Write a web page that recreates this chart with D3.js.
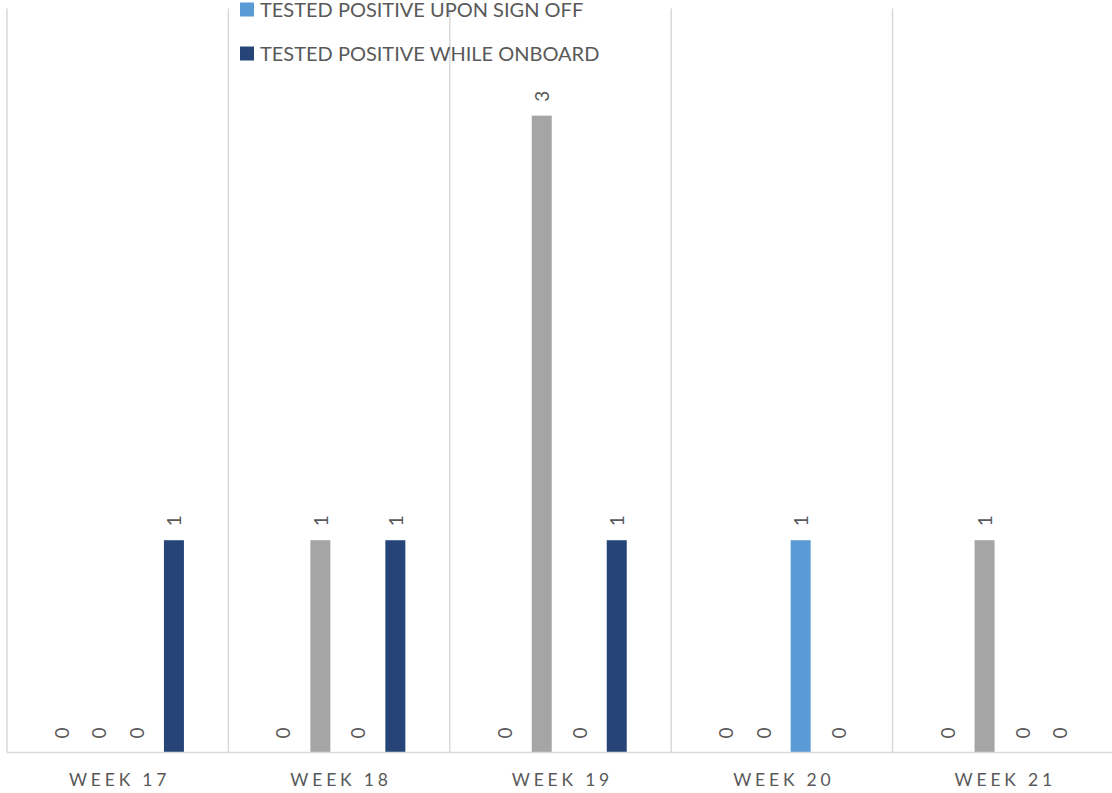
<!DOCTYPE html>
<html>
<head>
<meta charset="utf-8">
<script src="https://cdn.jsdelivr.net/npm/d3@7"></script>
<style>
  html, body { margin: 0; padding: 0; background: #ffffff; }
  svg { display: block; }
</style>
</head>
<body>
<svg id="chart" width="1112" height="793"></svg>
<script>
// ---- data ----
const categories = ["WEEK 17", "WEEK 18", "WEEK 19", "WEEK 20", "WEEK 21"];
const seriesNames = [
  "TESTED POSITIVE PRIOR TO JOINING",
  "TESTED POSITIVE UPON SIGN ON",
  "TESTED POSITIVE UPON SIGN OFF",
  "TESTED POSITIVE WHILE ONBOARD"
];
const seriesColors = ["#ED7D31", "#A5A5A5", "#5B9BD5", "#264478"];
const priorToJoining = [0, 0, 0, 0, 0];
const uponSignOn     = [0, 1, 3, 0, 1];
const uponSignOff    = [0, 0, 0, 1, 0];
const whileOnboard   = [1, 1, 1, 0, 0];
const seriesValues = [priorToJoining, uponSignOn, uponSignOff, whileOnboard];
// legend entries that are visible in the (cropped) reference
const legendShown = [2, 3];

// ---- layout ----
const W = 1112, H = 793;
const plot = { left: 7, right: 1114, top: 9.5, bottom: 752.5 };
const svg = d3.select("#chart");
const font = "Lato, 'Open Sans', sans-serif";
const textColor = "#595959";

const x0 = d3.scaleBand().domain(categories).range([plot.left, plot.right]).paddingInner(0).paddingOuter(0);
const x1 = d3.scaleBand().domain(d3.range(seriesNames.length)).range([0, x0.bandwidth()])
  .paddingInner(0.467).paddingOuter(1.186);
const y = d3.scaleLinear().domain([0, 3.5]).range([plot.bottom, plot.top]);

// vertical gridlines at category boundaries
const bounds = categories.map(c => x0(c)).concat([plot.right]);
svg.append("g").selectAll("line").data(bounds).join("line")
  .attr("x1", d => d).attr("x2", d => d)
  .attr("y1", plot.top - 1).attr("y2", plot.bottom)
  .attr("stroke", "#d9d9d9").attr("stroke-width", 1.5);

// bars
const groups = svg.append("g").selectAll("g").data(categories).join("g")
  .attr("transform", c => `translate(${x0(c)},0)`);

groups.selectAll("rect")
  .data((c, ci) => seriesValues.map((vals, si) => ({ si, v: vals[ci] })))
  .join("rect")
  .attr("x", d => x1(d.si))
  .attr("width", x1.bandwidth())
  .attr("y", d => y(d.v))
  .attr("height", d => y(0) - y(d.v))
  .attr("fill", d => seriesColors[d.si]);

// data labels (rotated)
groups.selectAll("text")
  .data((c, ci) => seriesValues.map((vals, si) => ({ si, v: vals[ci] })))
  .join("text")
  .attr("transform", d => `translate(${x1(d.si) + x1.bandwidth() / 2},${y(d.v) - 14}) rotate(-90)`)
  .attr("text-anchor", "start")
  .attr("dominant-baseline", "central")
  .attr("font-family", font)
  .attr("font-size", 19)
  .attr("fill", textColor)
  .text(d => d.v);

// x axis line
svg.append("line")
  .attr("x1", plot.left).attr("x2", W)
  .attr("y1", plot.bottom).attr("y2", plot.bottom)
  .attr("stroke", "#d9d9d9").attr("stroke-width", 1.5);

// x axis labels
const xAxis = d3.axisBottom(x0).tickSize(0).tickPadding(0);
const ax = svg.append("g").attr("transform", `translate(0,${plot.bottom})`).call(xAxis);
ax.select(".domain").remove();
ax.selectAll(".tick text")
  .attr("y", 33.5)
  .attr("dy", 0)
  .attr("font-family", font)
  .attr("font-size", 17.5)
  .attr("fill", textColor)
  .attr("letter-spacing", 3.8)
  .attr("dx", 1.9);

// legend (only the entries visible in the cropped reference)
const legend = svg.append("g").attr("transform", "translate(240,0)");
const rowY = d3.scaleLinear().domain([2, 3]).range([9.5, 53.5]);
const items = legend.selectAll("g").data(legendShown).join("g")
  .attr("transform", i => `translate(0,${rowY(i)})`);
items.append("rect")
  .attr("x", 0).attr("y", -7).attr("width", 14).attr("height", 14)
  .attr("fill", i => seriesColors[i]);
items.append("text")
  .attr("x", 20).attr("y", -1)
  .attr("dominant-baseline", "central")
  .attr("font-family", font)
  .attr("font-size", 20)
  .attr("fill", textColor)
  .text(i => seriesNames[i]);
</script>
</body>
</html>
